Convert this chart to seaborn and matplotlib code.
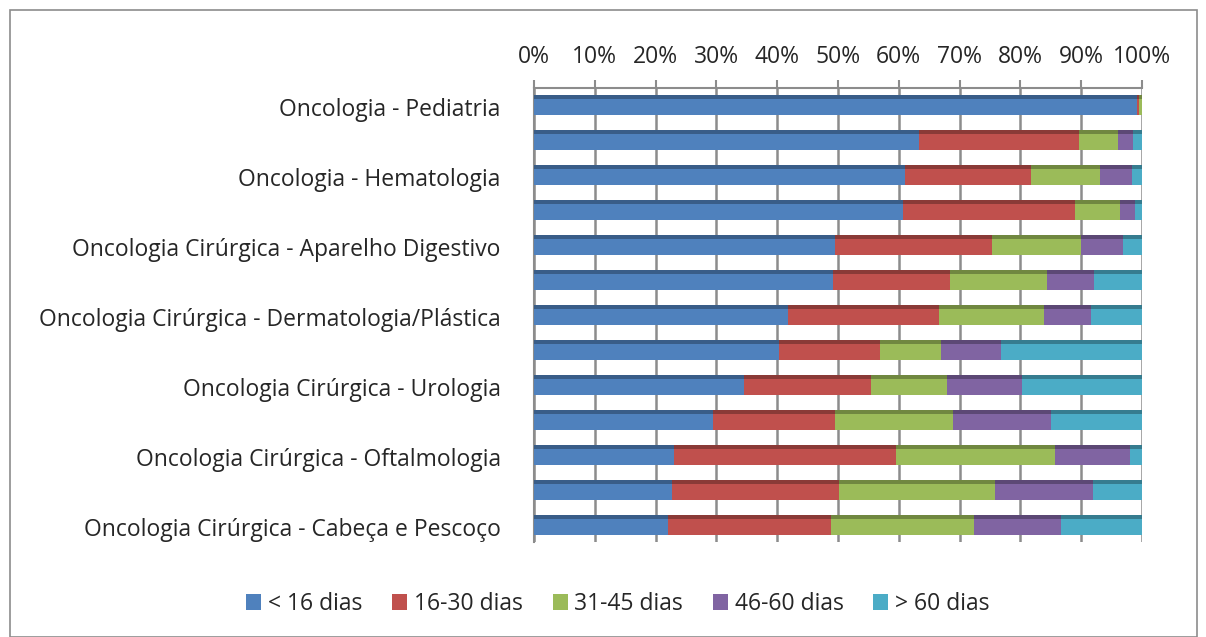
import numpy as np
import pandas as pd
import matplotlib
matplotlib.use("Agg")
import matplotlib.pyplot as plt
import matplotlib.colors as mcolors
from matplotlib.patches import Rectangle, Patch
from matplotlib.ticker import PercentFormatter, FixedLocator
import seaborn as sns

# categories (every other label is hidden in the original chart)
labels = ["Oncologia - Pediatria", "",
          "Oncologia - Hematologia", "",
          "Oncologia Cirúrgica - Aparelho Digestivo", "",
          "Oncologia Cirúrgica - Dermatologia/Plástica", "",
          "Oncologia Cirúrgica - Urologia", "",
          "Oncologia Cirúrgica - Oftalmologia", "",
          "Oncologia Cirúrgica - Cabeça e Pescoço"]

series = ["< 16 dias", "16-30 dias", "31-45 dias", "46-60 dias", "> 60 dias"]

menos16 = [99.2, 63.4, 61.1, 60.7, 49.5, 49.2, 41.7, 40.3, 34.5, 29.4, 23.0, 22.7, 22.0]
d16_30 = [0.3, 26.3, 20.7, 28.2, 25.8, 19.3, 24.9, 16.6, 20.9, 20.1, 36.6, 27.4, 26.9]
d31_45 = [0.5, 6.3, 11.3, 7.5, 14.6, 15.8, 17.2, 10.1, 12.5, 19.4, 26.1, 25.7, 23.4]
d46_60 = [0.0, 2.5, 5.2, 2.5, 6.9, 7.8, 7.8, 9.8, 12.4, 16.1, 12.4, 16.1, 14.4]
mais60 = [0.0, 1.5, 1.7, 1.1, 3.2, 7.9, 8.4, 23.2, 19.7, 15.0, 1.9, 8.1, 13.3]

cores = ["#4F81BD", "#C0504D", "#9BBB59", "#8064A2", "#4BACC6"]

df = pd.DataFrame({"pos": np.arange(len(labels)),
                   series[0]: menos16, series[1]: d16_30, series[2]: d31_45,
                   series[3]: d46_60, series[4]: mais60})
vals = df[series].to_numpy(dtype=float)
vals = vals / vals.sum(axis=1, keepdims=True)
cum = np.cumsum(vals, axis=1)

sns.set_style("white")
plt.rcParams["font.family"] = ["Open Sans", "DejaVu Sans"]

fig = plt.figure(figsize=(12.06, 6.37), dpi=100)
ax = fig.add_axes([534 / 1206, 1 - 542 / 637, 608 / 1206, (542 - 88) / 637])

largura = 0.46
# stacked bars: draw cumulative totals from the last series back to the first
for i in range(len(series) - 1, -1, -1):
    tmp = pd.DataFrame({"pos": df["pos"], "valor": cum[:, i]})
    sns.barplot(data=tmp, x="valor", y="pos", orient="y", color=cores[i],
                width=largura, saturation=1, ax=ax, zorder=3, linewidth=0)

# darker top face for a bit of depth like the original
for i in range(len(series)):
    left = cum[:, i] - vals[:, i]
    escuro = mcolors.to_rgb(cores[i])
    escuro = tuple(c * 0.72 for c in escuro)
    ax.barh(df["pos"] - largura / 2 - 0.05, vals[:, i], left=left, height=0.1,
            color=escuro, linewidth=0, zorder=3)

ax.set_xlim(0, 1)
ax.set_ylim(12.43, -0.54)
ax.xaxis.set_major_locator(FixedLocator(np.linspace(0, 1, 11)))
ax.xaxis.set_major_formatter(PercentFormatter(1.0, decimals=0))
ax.xaxis.tick_top()
ax.tick_params(axis="x", which="major", length=6, color="#8c8c8c", width=1.5,
               labelsize=16.5, pad=8)
ax.grid(axis="x", color="#8c8c8c", linewidth=1.8, zorder=0)
ax.set_axisbelow(True)

ax.set_yticks(df["pos"])
ax.set_yticklabels(labels, fontsize=16.5)
ax.yaxis.set_minor_locator(FixedLocator(np.arange(-0.5, len(labels), 1.0)))
ax.tick_params(axis="y", which="major", length=0, pad=24)
ax.tick_params(axis="y", which="minor", length=6, color="#8c8c8c", width=1.2)
ax.set_xlabel("")
ax.set_ylabel("")

for lado in ["right", "bottom"]:
    ax.spines[lado].set_visible(False)
for lado in ["top", "left"]:
    ax.spines[lado].set_color("#8c8c8c")
    ax.spines[lado].set_linewidth(1.5)

handles = [Patch(facecolor=c, edgecolor="none") for c in cores]
fig.legend(handles, series, loc="center", bbox_to_anchor=(618 / 1206, 1 - 604 / 637),
           ncol=5, frameon=False, fontsize=16.5, handlelength=0.65, handleheight=0.65,
           handletextpad=0.3, columnspacing=1.3)

fig.patches.append(Rectangle((10 / 1206, 0), 1187 / 1206, 627 / 637, transform=fig.transFigure,
                             fill=False, edgecolor="#8c8c8c", linewidth=1.2))

fig.savefig("out.png", dpi=100)
